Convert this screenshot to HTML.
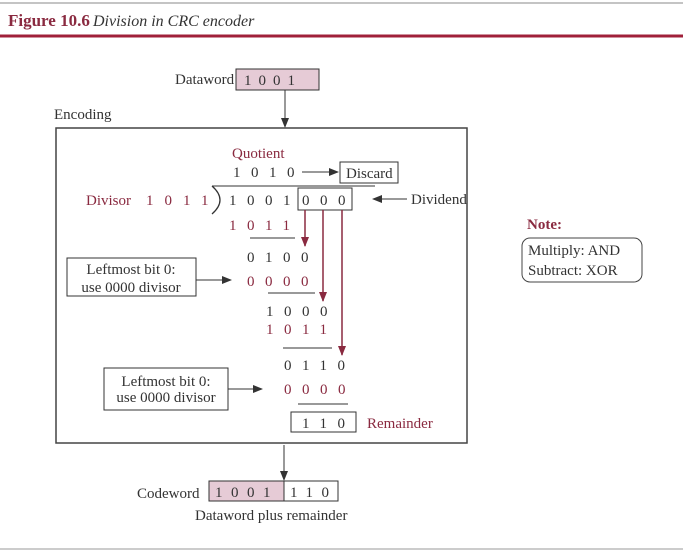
<!DOCTYPE html>
<html><head><meta charset="utf-8"><style>
html,body{margin:0;padding:0;background:#fff;}
svg{display:block;font-family:"Liberation Serif",serif;}
.m{fill:#8a2a40}
.t{font-size:15px;fill:#333}
</style></head><body>
<svg width="683" height="556" viewBox="0 0 683 556" xmlns="http://www.w3.org/2000/svg">
<defs>
<marker id="a" markerWidth="10" markerHeight="8" refX="9" refY="4" orient="auto" markerUnits="userSpaceOnUse"><path d="M0,0 L10,4 L0,8 z" fill="#333"/></marker>
<marker id="r" markerWidth="10" markerHeight="8" refX="9" refY="4" orient="auto" markerUnits="userSpaceOnUse"><path d="M0,0 L10,4 L0,8 z" fill="#8a2a40"/></marker>
</defs>
<line x1="0" y1="3" x2="683" y2="3" stroke="#888" stroke-width="1"/>
<text x="8" y="26" font-size="17" font-weight="bold" class="m">Figure 10.6</text>
<text x="93" y="26" font-size="16" font-style="italic" fill="#333">Division in CRC encoder</text>
<line x1="0" y1="36" x2="683" y2="36" stroke="#a0203a" stroke-width="3"/>

<g class="t">
<text x="175" y="84">Dataword</text>
<rect x="236" y="69" width="83" height="21" fill="#e6cbd6" stroke="#333"/>
<text x="244" y="85" letter-spacing="7">1001</text>
<line x1="285" y1="90" x2="285" y2="127" stroke="#333" marker-end="url(#a)"/>
<text x="54" y="119">Encoding</text>
<rect x="56" y="128" width="411" height="315" fill="none" stroke="#444" stroke-width="1.5"/>

<text x="232" y="158" class="m">Quotient</text>
<text x="233" y="177" letter-spacing="10.5">1010</text>
<line x1="302" y1="172" x2="338" y2="172" stroke="#333" marker-end="url(#a)"/>
<rect x="340" y="162" width="58" height="21" fill="none" stroke="#333"/>
<text x="346" y="178">Discard</text>

<line x1="212" y1="186" x2="375" y2="186" stroke="#333"/>
<path d="M212,186 Q228,200 212,214" fill="none" stroke="#333" stroke-width="1.3"/>
<text x="86" y="205" class="m">Divisor</text>
<text x="146" y="205" class="m" letter-spacing="11">1011</text>
<text x="229" y="205" letter-spacing="10.5">1001</text>
<rect x="298" y="188" width="54" height="22" fill="none" stroke="#333"/>
<text x="302" y="205" letter-spacing="10.5">000</text>
<line x1="407" y1="199" x2="373" y2="199" stroke="#333" marker-end="url(#a)"/>
<text x="411" y="204">Dividend</text>

<line x1="305" y1="210" x2="305" y2="246" stroke="#8a2a40" stroke-width="1.5" marker-end="url(#r)"/>
<line x1="323" y1="210" x2="323" y2="301" stroke="#8a2a40" stroke-width="1.5" marker-end="url(#r)"/>
<line x1="342" y1="210" x2="342" y2="355" stroke="#8a2a40" stroke-width="1.5" marker-end="url(#r)"/>

<text x="229" y="230" class="m" letter-spacing="10.5">1011</text>
<line x1="250" y1="238" x2="295" y2="238" stroke="#333"/>
<text x="247" y="262" letter-spacing="10.5">0100</text>
<text x="247" y="286" class="m" letter-spacing="10.5">0000</text>
<line x1="268" y1="293" x2="315" y2="293" stroke="#333"/>
<rect x="67" y="258" width="129" height="38" fill="none" stroke="#333"/>
<text x="131" y="274" text-anchor="middle">Leftmost bit 0:</text>
<text x="131" y="292" text-anchor="middle">use 0000 divisor</text>
<line x1="196" y1="280" x2="231" y2="280" stroke="#333" marker-end="url(#a)"/>

<text x="266" y="316" letter-spacing="10.5">1000</text>
<text x="266" y="334" class="m" letter-spacing="10.5">1011</text>
<line x1="283" y1="348" x2="332" y2="348" stroke="#333"/>
<text x="284" y="370" letter-spacing="10.5">0110</text>
<text x="284" y="394" class="m" letter-spacing="10.5">0000</text>
<line x1="298" y1="404" x2="348" y2="404" stroke="#333"/>
<rect x="104" y="368" width="124" height="42" fill="none" stroke="#333"/>
<text x="166" y="386" text-anchor="middle">Leftmost bit 0:</text>
<text x="166" y="402" text-anchor="middle">use 0000 divisor</text>
<line x1="228" y1="389" x2="262" y2="389" stroke="#333" marker-end="url(#a)"/>
<rect x="291" y="412" width="65" height="20" fill="none" stroke="#333"/>
<text x="302" y="428" letter-spacing="10.5">110</text>
<text x="367" y="428" class="m">Remainder</text>

<line x1="284" y1="445" x2="284" y2="480" stroke="#333" marker-end="url(#a)"/>
<text x="137" y="498">Codeword</text>
<rect x="209" y="481" width="75" height="20" fill="#e6cbd6" stroke="#333"/>
<rect x="284" y="481" width="54" height="20" fill="none" stroke="#333"/>
<text x="215" y="497" letter-spacing="8.5">1001</text>
<text x="290" y="497" letter-spacing="8.5">110</text>
<text x="195" y="520">Dataword plus remainder</text>

<text x="527" y="229" font-weight="bold" class="m">Note:</text>
<rect x="522" y="238" width="120" height="44" rx="8" fill="none" stroke="#444"/>
<text x="528" y="255">Multiply: AND</text>
<text x="528" y="275">Subtract: XOR</text>
</g>
<line x1="0" y1="549" x2="683" y2="549" stroke="#999" stroke-width="1"/>
</svg>
</body></html>
